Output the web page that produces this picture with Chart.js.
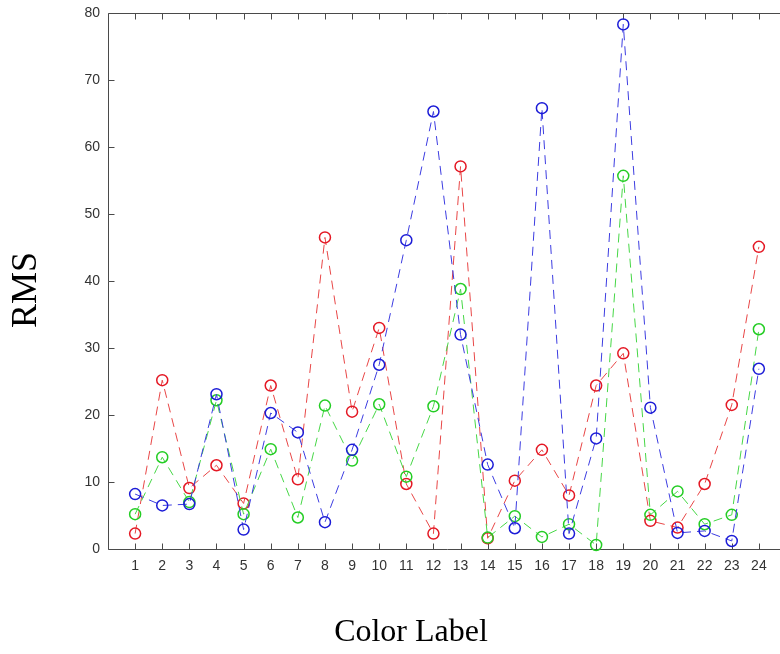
<!DOCTYPE html>
<html>
<head>
<meta charset="utf-8">
<script src="https://cdn.jsdelivr.net/npm/chart.js@4/dist/chart.umd.min.js"></script>
<style>
  html, body { margin: 0; padding: 0; background: #fff; overflow: hidden; }
  #wrap { width: 780px; height: 654px; overflow: hidden; }
</style>
</head>
<body>
<div id="wrap"><canvas id="graph" width="793" height="654"></canvas></div>
<script>
// color label index on x
var labels = [1, 2, 3, 4, 5, 6, 7, 8, 9, 10, 11, 12, 13, 14, 15, 16, 17, 18, 19, 20, 21, 22, 23, 24];
var yTicks = [0, 10, 20, 30, 40, 50, 60, 70, 80];

// RMS values
var redRMS   = [2.3, 25.2, 9.1, 12.5, 6.8, 24.4, 10.4, 46.5, 20.5, 33.0, 9.7, 2.3, 57.1, 1.6, 10.2, 14.8, 8.0, 24.4, 29.2, 4.2, 3.2, 9.7, 21.5, 45.1];
var greenRMS = [5.2, 13.7, 7.0, 22.2, 5.2, 14.9, 4.7, 21.4, 13.2, 21.6, 10.8, 21.3, 38.8, 1.7, 4.9, 1.8, 3.7, 0.6, 55.7, 5.1, 8.6, 3.7, 5.1, 32.8];
var blueRMS  = [8.2, 6.5, 6.7, 23.1, 2.9, 20.3, 17.4, 4.0, 14.8, 27.5, 46.1, 65.3, 32.0, 12.6, 3.1, 65.8, 2.3, 16.5, 78.3, 21.1, 2.4, 2.7, 1.2, 26.9];

var xTitle = 'Color Label';
var yTitle = 'RMS';

function pts(vals) {
    var out = [];
    for (var i = 0; i < labels.length; i++) {
        out.push({x: labels[i], y: vals[i]});
    }
    return out;
}

function series(vals, color, line, order) {
    return {
        data: pts(vals),
        borderColor: line,
        borderWidth: 1,
        borderDash: [9, 6],
        pointRadius: 5.5,
        pointBorderWidth: 1.5,
        pointBorderColor: color,
        pointBackgroundColor: 'rgba(0,0,0,0)',
        pointStyle: 'circle',
        tension: 0,
        order: order
    };
}

// MATLAB style box with inward ticks, plus axis titles
var frame = {
    id: 'frame',
    beforeDatasetsDraw: function(chart) {
        var ctx = chart.ctx;
        var x = chart.scales.x, y = chart.scales.y;
        var L = Math.round(x.getPixelForValue(x.min)) + 0.5, R = Math.round(x.getPixelForValue(x.max)) + 0.5;
        var T = Math.round(y.getPixelForValue(y.max)) + 0.5, B = Math.round(y.getPixelForValue(y.min)) + 0.5;
        ctx.save();
        ctx.strokeStyle = '#4a4a4a';
        ctx.lineWidth = 1;
        ctx.beginPath();
        ctx.rect(L, T, R - L, B - T);
        x.ticks.forEach(function(t) {
            var px = Math.round(x.getPixelForValue(t.value)) + 0.5;
            ctx.moveTo(px, B); ctx.lineTo(px, B - 6);
            ctx.moveTo(px, T); ctx.lineTo(px, T + 6);
        });
        y.ticks.forEach(function(t) {
            var py = Math.round(y.getPixelForValue(t.value)) + 0.5;
            ctx.moveTo(L, py); ctx.lineTo(L + 6, py);
            ctx.moveTo(R, py); ctx.lineTo(R - 6, py);
        });
        ctx.stroke();
        ctx.restore();
    },
    afterDraw: function(chart) {
        var ctx = chart.ctx;
        ctx.save();
        ctx.fillStyle = '#000';
        ctx.textAlign = 'center';
        ctx.textBaseline = 'middle';
        ctx.font = '32px "Liberation Serif", "DejaVu Serif", serif';
        ctx.fillText(xTitle, 411, 633);
        ctx.translate(27, 290);
        ctx.rotate(-Math.PI / 2);
        ctx.font = '36px "Liberation Serif", "DejaVu Serif", serif';
        ctx.fillText(yTitle, 0, 0);
        ctx.restore();
    }
};

var ctx = document.getElementById('graph').getContext('2d');
var chart = new Chart(ctx, {
    type: 'line',
    data: {
        datasets: [
            series(redRMS, 'rgb(228,24,36)', 'rgb(232,70,70)', 3),
            series(greenRMS, 'rgb(36,205,36)', 'rgb(70,215,70)', 2),
            series(blueRMS, 'rgb(28,28,215)', 'rgb(60,60,225)', 1)
        ]
    },
    options: {
        responsive: false,
        animation: false,
        clip: false,
        layout: { padding: { top: 13, right: 0, left: 0, bottom: 0 } },
        plugins: { legend: { display: false }, tooltip: { enabled: false } },
        scales: {
            x: {
                type: 'linear',
                min: 0,
                max: 25,
                afterBuildTicks: function(scale) {
                    scale.ticks = labels.map(function(v) { return {value: v}; });
                },
                afterFit: function(scale) {
                    scale.height = 105;
                    scale.paddingLeft = 0;
                    scale.paddingRight = 0;
                },
                grid: { display: false, drawTicks: false },
                border: { display: false },
                ticks: {
                    padding: 9,
                    maxRotation: 0,
                    autoSkip: false,
                    color: '#333',
                    font: { family: '"Liberation Sans", Arial, sans-serif', size: 14 }
                }
            },
            y: {
                min: 0,
                max: 80,
                afterBuildTicks: function(scale) {
                    scale.ticks = yTicks.map(function(v) { return {value: v}; });
                },
                afterFit: function(scale) {
                    scale.width = 108;
                    scale.paddingTop = 0;
                    scale.paddingBottom = 0;
                },
                grid: { display: false, drawTicks: false },
                border: { display: false },
                ticks: {
                    padding: 8,
                    color: '#333',
                    font: { family: '"Liberation Sans", Arial, sans-serif', size: 14 }
                }
            }
        }
    },
    plugins: [frame]
});
</script>
</body>
</html>
